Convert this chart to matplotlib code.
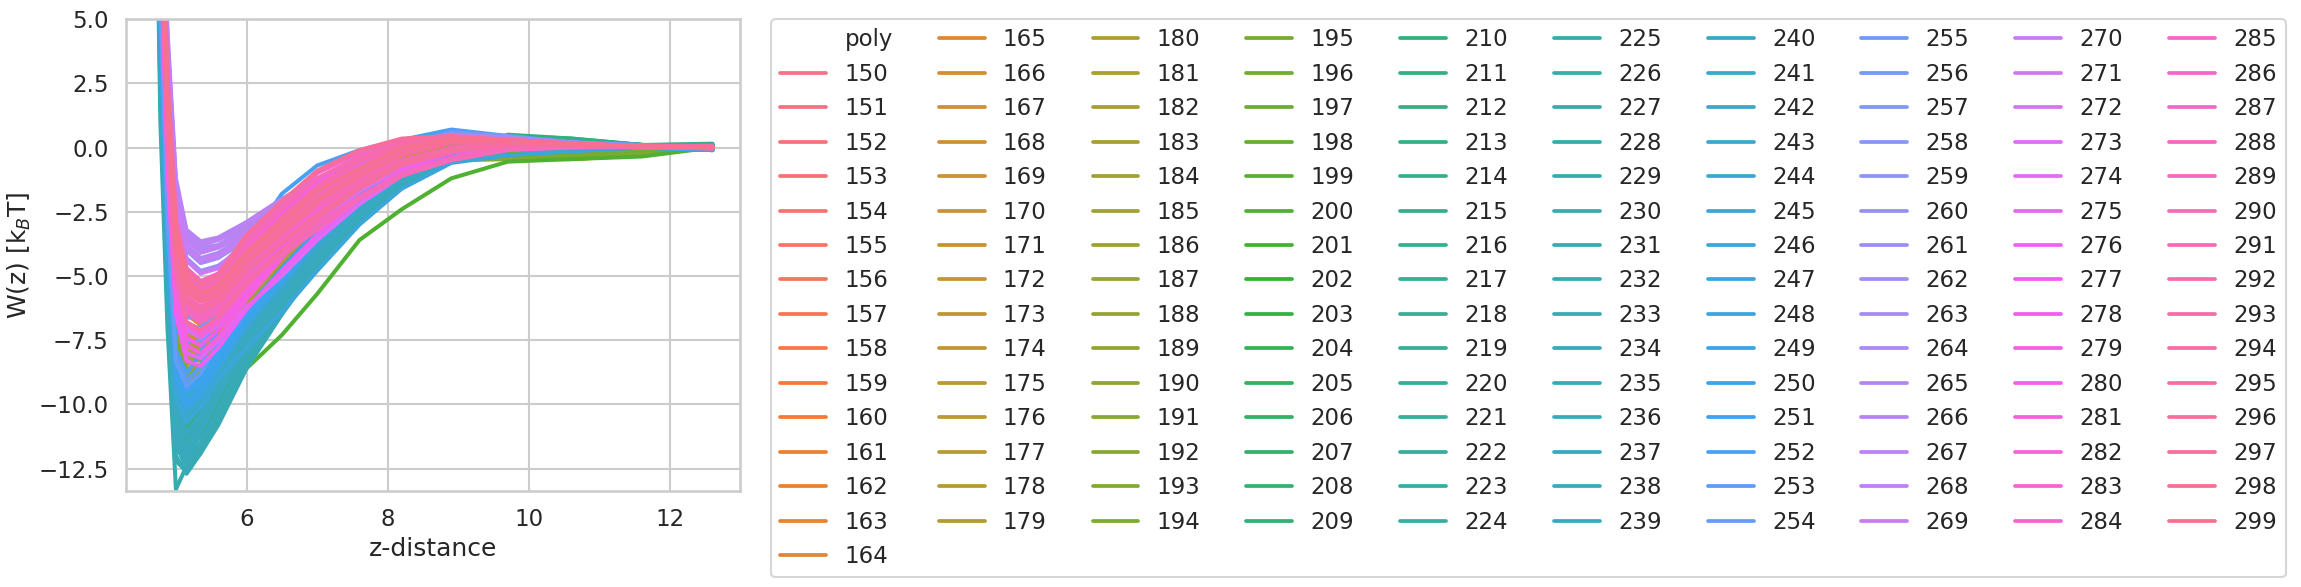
import numpy as np
import seaborn as sns
import matplotlib
matplotlib.use("Agg")
import matplotlib.pyplot as plt
from matplotlib.lines import Line2D

# z positions shared by every curve
z_grid = [4.69, 4.78, 4.88, 5.00, 5.15, 5.35, 5.60, 6.00, 6.50, 7.00,
          7.60, 8.20, 8.90, 9.70, 10.60, 11.60, 12.60]

polys = list(range(150, 300))

# W(z), one row per poly, grouped by colour band
w_150_164 = [
    [26, 12, 3.0, -2.8, -4.7, -5.2, -5.0, -4.2, -3.1, -2.0, -1.0, -0.2, 0.2, 0.25, 0.15, 0.05, 0.0],
    [25, 11, 2.2, -3.4, -5.3, -5.8, -5.5, -4.6, -3.4, -2.2, -1.1, -0.2, 0.2, 0.2, 0.1, 0.05, -0.05],
    [26, 12, 2.8, -3.0, -4.9, -5.4, -5.2, -4.3, -3.2, -2.0, -0.9, -0.1, 0.3, 0.25, 0.15, 0.05, 0.05],
    [24, 10, 1.6, -4.0, -6.0, -6.4, -6.0, -4.9, -3.6, -2.3, -1.1, -0.2, 0.2, 0.2, 0.1, 0.05, 0.0],
    [25, 11, 2.5, -3.2, -5.0, -5.5, -5.3, -4.4, -3.3, -2.1, -0.9, 0.0, 0.35, 0.3, 0.15, 0.05, 0.1],
    [24, 10, 1.2, -4.3, -6.3, -6.7, -6.3, -5.2, -3.8, -2.5, -1.2, -0.3, 0.15, 0.2, 0.1, 0.0, 0.0],
    [25, 11, 2.0, -3.5, -5.4, -5.9, -5.6, -4.6, -3.4, -2.2, -1.0, -0.1, 0.3, 0.25, 0.1, 0.05, -0.1],
    [23, 9, 0.8, -4.8, -6.8, -7.1, -6.6, -5.4, -4.0, -2.6, -1.3, -0.3, 0.2, 0.2, 0.1, 0.0, 0.05],
    [25, 11, 2.4, -3.1, -5.0, -5.6, -5.4, -4.5, -3.4, -2.1, -0.9, 0.1, 0.4, 0.3, 0.15, 0.05, 0.0],
    [24, 10, 1.4, -4.2, -6.1, -6.5, -6.1, -5.0, -3.7, -2.4, -1.1, -0.2, 0.2, 0.2, 0.1, 0.05, 0.0],
    [23, 9, 0.5, -5.0, -7.0, -7.3, -6.8, -5.5, -4.1, -2.7, -1.4, -0.4, 0.1, 0.15, 0.1, 0.0, 0.1],
    [25, 11, 2.1, -3.4, -5.3, -5.8, -5.5, -4.6, -3.4, -2.2, -1.0, -0.1, 0.3, 0.25, 0.1, 0.05, 0.0],
    [24, 10, 1.0, -4.5, -6.5, -6.9, -6.4, -5.2, -3.9, -2.5, -1.2, -0.3, 0.2, 0.2, 0.1, 0.0, -0.05],
    [24, 10, 1.3, -4.2, -6.2, -6.6, -6.2, -5.1, -3.8, -2.4, -1.2, -0.2, 0.2, 0.2, 0.1, 0.05, 0.0],
    [23, 9, 0.6, -5.0, -6.9, -7.2, -6.7, -5.5, -4.1, -2.7, -1.4, -0.4, 0.1, 0.15, 0.1, 0.0, 0.05],
]
w_165_179 = [
    [23, 9, 0.3, -5.2, -7.2, -7.5, -7.0, -5.7, -4.3, -2.9, -1.5, -0.5, 0.05, 0.15, 0.1, 0.0, 0.0],
    [22, 8, -0.4, -5.9, -7.8, -8.0, -7.4, -6.0, -4.5, -3.1, -1.7, -0.6, 0.0, 0.1, 0.05, 0.0, 0.1],
    [24, 10, 1.2, -4.4, -6.4, -6.8, -6.3, -5.1, -3.8, -2.5, -1.2, -0.2, 0.3, 0.3, 0.15, 0.05, 0.0],
    [22, 8, -0.8, -6.3, -8.2, -8.3, -7.6, -6.2, -4.7, -3.2, -1.8, -0.7, -0.05, 0.1, 0.05, 0.0, -0.05],
    [23, 9, 0.0, -5.5, -7.4, -7.7, -7.1, -5.8, -4.4, -3.0, -1.6, -0.5, 0.1, 0.15, 0.1, 0.0, 0.0],
    [22, 8, -0.6, -6.1, -8.0, -8.2, -7.5, -6.6, -5.8, -4.6, -2.6, -1.1, -0.2, 0.0, 0.0, 0.0, 0.05],
    [23, 9, 0.5, -5.0, -7.0, -7.3, -6.8, -5.5, -4.1, -2.7, -1.4, -0.3, 0.2, 0.2, 0.1, 0.05, 0.0],
    [22, 8, -0.2, -5.7, -7.6, -7.9, -7.3, -5.9, -4.5, -3.0, -1.6, -0.5, 0.1, 0.15, 0.1, 0.0, 0.0],
    [23, 9, 0.2, -5.3, -7.3, -7.6, -7.0, -5.7, -4.3, -2.9, -1.5, -0.4, 0.4, 0.3, 0.15, 0.05, -0.05],
    [21, 7, -1.0, -6.5, -8.4, -8.5, -7.8, -6.3, -4.8, -3.3, -1.9, -0.7, -0.1, 0.05, 0.0, 0.0, 0.0],
    [22, 8, -0.3, -5.8, -7.7, -7.9, -7.3, -6.0, -4.5, -3.0, -1.6, -0.5, 0.05, 0.1, 0.05, 0.0, 0.05],
    [23, 9, 0.4, -5.1, -7.1, -7.4, -6.9, -5.6, -4.2, -2.8, -1.4, -0.3, 0.15, 0.2, 0.1, 0.0, 0.0],
    [21, 7, -1.2, -6.7, -8.6, -8.6, -7.9, -6.4, -4.9, -3.4, -1.9, -0.8, -0.15, 0.0, 0.0, 0.0, 0.0],
    [22, 8, -0.5, -6.0, -7.9, -8.1, -7.4, -6.1, -4.6, -3.1, -1.7, -0.6, 0.0, 0.1, 0.05, 0.0, -0.1],
    [22, 8, -0.1, -5.6, -7.5, -7.8, -7.2, -5.9, -4.4, -3.0, -1.6, -0.5, 0.05, 0.1, 0.05, 0.0, 0.0],
]
w_180_194 = [
    [21, 7, -1.5, -7.0, -8.9, -8.8, -8.0, -6.5, -5.0, -3.5, -2.0, -0.9, -0.3, -0.2, -0.2, -0.1, 0.0],
    [22, 8, -0.7, -6.2, -8.1, -8.2, -7.5, -6.1, -4.6, -3.2, -1.8, -0.7, -0.2, -0.15, -0.15, -0.1, 0.05],
    [20, 6, -2.2, -7.7, -9.5, -9.3, -8.4, -6.8, -5.2, -3.7, -2.2, -1.0, -0.4, -0.3, -0.25, -0.15, 0.0],
    [21, 7, -1.3, -6.8, -8.7, -8.7, -7.9, -6.4, -4.9, -3.4, -2.0, -0.8, -0.25, -0.2, -0.2, -0.1, 0.0],
    [22, 8, -0.8, -6.3, -8.2, -8.3, -7.6, -6.2, -4.7, -3.2, -1.8, -0.7, -0.2, -0.15, -0.1, -0.05, 0.0],
    [20, 6, -2.4, -7.9, -9.7, -9.5, -8.6, -7.0, -5.4, -3.8, -2.3, -1.1, -0.45, -0.4, -0.4, -0.25, 0.0],
    [21, 7, -1.6, -7.1, -9.0, -8.9, -8.1, -6.6, -5.0, -3.5, -2.1, -0.9, -0.3, -0.25, -0.2, -0.1, 0.1],
    [20, 6, -2.0, -7.5, -9.3, -9.2, -8.3, -6.8, -5.2, -3.6, -2.2, -1.0, -0.35, -0.3, -0.3, -0.2, 0.0],
    [21, 7, -1.2, -6.7, -8.6, -8.6, -7.8, -6.4, -4.8, -3.4, -1.9, -0.8, -0.25, -0.2, -0.15, -0.1, 0.0],
    [20, 6, -2.6, -8.1, -9.9, -9.6, -8.7, -7.1, -5.5, -3.9, -2.4, -1.1, -0.45, -0.45, -0.45, -0.3, 0.05],
    [21, 7, -1.7, -7.2, -9.1, -9.0, -8.2, -6.6, -5.1, -3.6, -2.1, -0.9, -0.3, -0.3, -0.3, -0.2, 0.0],
    [20, 6, -2.3, -7.8, -9.6, -9.4, -8.5, -6.9, -5.3, -3.8, -2.3, -1.0, -0.4, -0.35, -0.35, -0.25, 0.0],
    [21, 7, -1.4, -6.9, -8.8, -8.8, -8.0, -6.5, -5.0, -3.5, -2.0, -0.9, -0.3, -0.2, -0.2, -0.1, -0.05],
    [20, 6, -2.8, -8.3, -10.1, -9.8, -8.8, -7.2, -5.6, -4.0, -2.4, -1.2, -0.5, -0.45, -0.45, -0.3, 0.0],
    [20, 6, -2.1, -7.6, -9.4, -9.2, -8.4, -6.8, -5.2, -3.7, -2.2, -1.0, -0.35, -0.3, -0.3, -0.2, 0.0],
]
w_195_209 = [
    [20, 6, -2.5, -8.0, -9.8, -9.6, -8.6, -7.0, -5.4, -3.9, -2.4, -1.1, -0.4, -0.2, -0.2, -0.1, 0.0],
    [19, 5, -3.2, -8.8, -10.4, -10.0, -8.9, -7.3, -5.6, -4.0, -2.5, -1.2, -0.4, 0.2, 0.1, 0.0, 0.0],
    [20, 6, -2.7, -8.2, -10.0, -9.7, -8.7, -7.1, -5.5, -3.9, -2.4, -1.1, -0.4, -0.1, -0.1, 0.0, 0.05],
    [19, 5, -3.5, -9.1, -10.6, -10.2, -9.1, -7.5, -5.8, -4.2, -2.6, -1.3, -0.5, 0.0, 0.0, 0.0, 0.0],
    [19, 5, -3.0, -8.6, -10.2, -9.9, -8.8, -7.2, -5.6, -4.0, -2.5, -1.2, -0.4, 0.1, 0.05, 0.0, 0.1],
    [19, 5, -3.8, -9.4, -10.8, -10.3, -9.6, -8.6, -7.3, -5.7, -3.6, -2.4, -1.2, -0.55, -0.45, -0.35, 0.0],
    [20, 6, -2.6, -8.1, -9.9, -9.6, -8.6, -7.0, -5.4, -3.9, -2.4, -1.1, -0.3, 0.3, 0.2, 0.1, 0.0],
    [19, 5, -3.4, -9.0, -10.5, -10.1, -9.0, -7.4, -5.7, -4.1, -2.6, -1.2, -0.4, 0.0, 0.0, 0.0, -0.05],
    [19, 5, -3.1, -8.7, -10.3, -9.9, -8.9, -7.2, -5.6, -4.0, -2.5, -1.2, -0.4, 0.1, 0.1, 0.05, 0.0],
    [18, 4, -4.0, -9.7, -11.0, -10.5, -9.3, -7.6, -5.9, -4.2, -2.6, -1.3, -0.5, 0.0, 0.0, 0.0, 0.0],
    [19, 5, -3.3, -8.9, -10.5, -10.1, -9.0, -7.3, -5.7, -4.1, -2.5, -1.2, -0.4, 0.4, 0.3, 0.1, 0.05],
    [20, 6, -2.9, -8.4, -10.1, -9.8, -8.8, -7.1, -5.5, -4.0, -2.4, -1.1, -0.3, 0.2, 0.15, 0.05, 0.0],
    [19, 5, -3.6, -9.2, -10.7, -10.2, -9.1, -7.4, -5.8, -4.1, -2.6, -1.3, -0.45, 0.1, 0.1, 0.05, 0.0],
    [18, 4, -3.9, -9.6, -10.9, -10.4, -9.2, -7.5, -5.8, -4.2, -2.6, -1.3, -0.5, 0.45, 0.35, 0.1, 0.0],
    [19, 5, -3.2, -8.8, -10.4, -10.0, -8.9, -7.3, -5.6, -4.0, -2.5, -1.2, -0.4, 0.2, 0.15, 0.05, 0.1],
]
w_210_224 = [
    [18, 4, -4.2, -10.0, -11.3, -10.6, -9.4, -7.6, -5.9, -4.2, -2.6, -1.3, -0.4, 0.5, 0.35, 0.1, 0.0],
    [18, 4, -4.5, -10.3, -11.6, -10.8, -9.5, -7.7, -6.0, -4.3, -2.7, -1.3, -0.45, 0.3, 0.3, 0.1, 0.05],
    [19, 5, -3.6, -9.3, -10.8, -10.3, -9.2, -7.5, -5.8, -4.2, -2.6, -1.2, -0.4, 0.2, 0.1, 0.05, 0.0],
    [18, 4, -4.8, -10.6, -11.9, -11.2, -10.0, -8.0, -6.2, -4.4, -2.7, -1.4, -0.5, 0.1, 0.1, 0.0, 0.0],
    [18, 4, -4.3, -10.1, -11.4, -10.7, -9.4, -7.6, -5.9, -4.3, -2.6, -1.3, -0.4, 0.4, 0.3, 0.1, 0.15],
    [17, 3, -5.1, -11.0, -12.2, -11.5, -10.3, -8.2, -6.3, -4.5, -2.8, -1.4, -0.5, 0.0, 0.0, 0.0, 0.0],
    [18, 4, -4.0, -9.8, -11.2, -10.5, -9.3, -7.6, -5.9, -4.2, -2.6, -1.3, -0.4, 0.2, 0.1, 0.05, 0.0],
    [18, 4, -4.6, -10.4, -11.7, -10.9, -9.5, -7.7, -6.0, -4.3, -2.7, -1.3, -0.45, 0.1, 0.05, 0.0, -0.05],
    [17, 3, -5.3, -11.2, -12.4, -11.6, -10.4, -8.3, -6.3, -4.5, -2.8, -1.4, -0.5, -0.1, 0.0, 0.0, 0.0],
    [18, 4, -4.4, -10.2, -11.5, -10.7, -9.4, -7.7, -5.9, -4.3, -2.7, -1.3, -0.4, 0.15, 0.1, 0.05, 0.0],
    [18, 4, -4.7, -10.5, -11.8, -11.0, -9.6, -7.8, -6.0, -4.4, -2.7, -1.4, -0.5, 0.0, 0.0, 0.0, 0.1],
    [17, 3, -5.0, -10.9, -12.1, -11.1, -9.7, -7.9, -6.1, -4.4, -2.8, -1.4, -0.5, 0.05, 0.05, 0.0, 0.0],
    [18, 4, -4.1, -9.9, -11.3, -10.6, -9.3, -7.6, -5.9, -4.2, -2.6, -1.3, -0.4, 0.25, 0.2, 0.05, 0.0],
    [17, 3, -5.4, -11.3, -12.5, -11.7, -10.5, -8.4, -6.4, -4.6, -2.8, -1.5, -0.55, -0.1, -0.05, 0.0, -0.1],
    [18, 4, -4.5, -10.3, -11.6, -10.8, -9.5, -7.7, -6.0, -4.3, -2.7, -1.3, -0.45, 0.1, 0.05, 0.0, 0.0],
]
w_225_239 = [
    [17, 3, -5.0, -10.9, -12.0, -11.2, -10.0, -8.0, -6.1, -4.4, -2.7, -1.3, -0.4, 0.0, 0.0, 0.0, 0.0],
    [17, 3, -5.5, -11.4, -12.4, -11.6, -10.3, -8.2, -6.2, -4.5, -2.7, -1.4, -0.5, -0.05, 0.0, 0.0, 0.05],
    [18, 4, -4.4, -10.2, -11.4, -10.6, -9.3, -7.5, -5.8, -4.1, -2.5, -1.2, -0.4, 0.05, 0.05, 0.0, 0.0],
    [16, 2, -6.2, -12.2, -12.6, -11.9, -10.7, -8.5, -6.4, -4.6, -2.8, -1.4, -0.5, -0.1, 0.0, 0.0, 0.0],
    [17, 3, -5.2, -11.1, -12.2, -11.1, -9.7, -7.8, -6.0, -4.3, -2.6, -1.3, -0.45, 0.0, 0.0, 0.0, -0.1],
    [16, 1, -7.0, -13.3, -12.4, -11.6, -10.4, -8.2, -6.2, -4.4, -2.7, -1.3, -0.45, -0.1, 0.0, 0.0, 0.0],
    [17, 3, -5.6, -11.5, -12.5, -11.7, -10.5, -8.3, -6.3, -4.5, -2.7, -1.4, -0.5, -0.05, 0.0, 0.0, 0.0],
    [18, 4, -4.6, -10.5, -11.6, -10.7, -9.4, -7.6, -5.8, -4.2, -2.6, -1.2, -0.4, 0.05, 0.05, 0.0, 0.05],
    [17, 2, -6.0, -12.0, -12.7, -11.9, -10.8, -8.6, -6.5, -4.6, -2.8, -1.4, -0.5, -0.1, -0.05, 0.0, 0.0],
    [17, 3, -5.3, -11.2, -12.2, -11.1, -9.7, -7.8, -6.0, -4.3, -2.6, -1.3, -0.45, 0.0, 0.0, 0.0, 0.0],
    [18, 4, -4.3, -10.1, -11.2, -10.5, -9.2, -7.4, -5.7, -4.1, -2.5, -1.2, -0.35, 0.05, 0.05, 0.0, -0.05],
    [17, 3, -5.7, -11.6, -12.4, -11.5, -10.2, -8.1, -6.2, -4.4, -2.7, -1.3, -0.45, 0.0, 0.0, 0.0, 0.0],
    [18, 4, -4.8, -10.7, -11.7, -10.8, -9.4, -7.6, -5.8, -4.2, -2.6, -1.2, -0.4, 0.0, 0.0, 0.0, 0.1],
    [17, 3, -5.4, -11.3, -12.0, -11.0, -9.6, -7.7, -5.9, -4.2, -2.6, -1.3, -0.45, -0.05, 0.0, 0.0, 0.0],
    [18, 4, -4.2, -10.0, -11.1, -10.4, -9.1, -7.3, -5.6, -4.0, -2.5, -1.1, -0.35, 0.05, 0.05, 0.0, 0.0],
]
w_240_254 = [
    [18, 4, -4.0, -9.6, -10.6, -10.0, -8.9, -7.1, -5.4, -3.8, -2.3, -1.0, -0.3, 0.05, 0.05, 0.0, 0.0],
    [19, 5, -3.3, -8.8, -9.9, -9.4, -8.4, -6.7, -5.1, -3.6, -2.1, -0.9, -0.25, 0.05, 0.05, 0.0, 0.0],
    [18, 4, -3.8, -9.4, -10.4, -9.8, -8.7, -7.0, -5.3, -3.8, -2.3, -1.0, -0.3, 0.0, 0.0, 0.0, -0.1],
    [19, 5, -3.0, -8.5, -9.6, -9.2, -8.2, -6.6, -5.0, -3.5, -2.0, -0.8, -0.2, 0.1, 0.05, 0.0, 0.0],
    [19, 5, -3.5, -9.0, -10.1, -9.6, -8.5, -6.8, -5.2, -3.6, -2.1, -0.9, -0.3, 0.0, 0.0, 0.0, 0.0],
    [20, 6, -2.8, -8.3, -9.4, -9.0, -8.0, -6.4, -4.8, -3.3, -1.9, -0.7, -0.1, 0.1, 0.05, 0.0, 0.05],
    [18, 4, -4.1, -9.7, -10.7, -10.1, -9.0, -7.8, -6.4, -4.8, -3.0, -1.6, -0.6, -0.3, -0.15, 0.0, 0.0],
    [19, 5, -3.2, -8.7, -9.8, -9.3, -8.3, -6.7, -5.0, -3.5, -2.0, -0.8, -0.2, 0.05, 0.05, 0.0, 0.0],
    [19, 5, -3.6, -9.1, -10.2, -9.7, -8.6, -6.9, -5.3, -3.7, -2.2, -0.9, -0.3, 0.0, 0.0, 0.0, 0.1],
    [20, 6, -2.7, -8.2, -9.3, -8.9, -7.9, -6.3, -4.7, -3.2, -1.8, -0.6, 0.0, 0.15, 0.1, 0.0, 0.0],
    [19, 5, -3.4, -8.9, -10.0, -9.5, -8.4, -6.8, -5.2, -3.6, -2.1, -0.9, -0.25, 0.0, 0.0, 0.0, -0.1],
    [20, 6, -2.9, -8.4, -9.5, -9.1, -8.1, -6.5, -4.9, -3.4, -1.9, -0.7, -0.1, 0.1, 0.05, 0.0, 0.0],
    [20, 6, -2.5, -7.9, -8.8, -8.0, -6.2, -3.8, -1.8, -0.7, -0.1, 0.3, 0.7, 0.45, 0.2, 0.1, 0.0],
    [20, 6, -2.6, -8.1, -9.1, -8.5, -7.0, -4.9, -3.0, -1.6, -0.5, 0.15, 0.6, 0.4, 0.2, 0.05, 0.0],
    [20, 6, -2.8, -8.3, -9.3, -8.8, -7.6, -5.8, -4.0, -2.6, -1.3, -0.3, 0.3, 0.35, 0.15, 0.05, 0.0],
]
w_255_269 = [
    [21, 7, -1.2, -6.5, -7.6, -7.5, -6.8, -5.4, -3.9, -2.5, -1.2, -0.1, 0.55, 0.4, 0.2, 0.05, 0.0],
    [22, 8, -0.5, -5.8, -7.0, -7.0, -6.4, -5.1, -3.7, -2.3, -1.0, 0.0, 0.6, 0.45, 0.2, 0.1, 0.0],
    [22, 8, 0.0, -5.2, -6.6, -6.7, -6.2, -5.0, -3.6, -2.2, -1.0, -0.05, 0.5, 0.4, 0.2, 0.05, 0.0],
    [23, 9, 0.8, -4.5, -6.0, -6.2, -5.8, -4.7, -3.4, -2.1, -0.9, 0.0, 0.5, 0.4, 0.2, 0.05, 0.0],
    [24, 10, 1.8, -3.5, -5.2, -5.5, -5.2, -4.3, -3.1, -1.9, -0.8, 0.1, 0.5, 0.4, 0.2, 0.05, 0.0],
    [24, 10, 2.0, -3.2, -4.9, -5.3, -5.0, -4.1, -3.0, -1.9, -0.8, 0.0, 0.45, 0.35, 0.2, 0.05, 0.0],
    [25, 11, 2.8, -2.5, -4.3, -4.8, -4.6, -3.8, -2.8, -1.7, -0.7, 0.05, 0.45, 0.35, 0.15, 0.05, 0.0],
    [25, 12, 3.3, -2.1, -4.0, -4.5, -4.3, -3.6, -2.6, -1.6, -0.6, 0.1, 0.5, 0.4, 0.2, 0.05, 0.0],
    [26, 12, 3.6, -1.9, -3.8, -4.3, -4.1, -3.4, -2.5, -1.5, -0.6, 0.1, 0.5, 0.35, 0.15, 0.05, 0.0],
    [27, 13, 4.2, -1.5, -3.4, -3.9, -3.8, -3.1, -2.2, -1.4, -0.5, 0.15, 0.5, 0.35, 0.15, 0.05, 0.0],
    [27, 13, 4.0, -1.6, -3.5, -4.0, -3.8, -3.2, -2.3, -1.4, -0.5, 0.1, 0.45, 0.3, 0.15, 0.05, 0.0],
    [28, 14, 4.6, -1.2, -3.2, -3.65, -3.5, -2.9, -2.0, -1.2, -0.4, 0.2, 0.5, 0.35, 0.15, 0.05, 0.0],
    [27, 13, 4.3, -1.4, -3.3, -3.8, -3.6, -3.0, -2.1, -1.3, -0.5, 0.15, 0.45, 0.3, 0.15, 0.05, 0.0],
    [26, 12, 3.8, -1.8, -3.6, -4.1, -3.9, -3.3, -2.3, -1.4, -0.5, 0.1, 0.4, 0.3, 0.15, 0.05, 0.0],
    [26, 12, 3.5, -2.0, -3.9, -4.4, -4.2, -3.5, -2.5, -1.5, -0.6, 0.1, 0.4, 0.3, 0.15, 0.05, 0.0],
]
w_270_284 = [
    [26, 12, 3.0, -2.5, -4.4, -4.9, -4.7, -3.6, -2.4, -1.3, -0.4, 0.2, 0.4, 0.3, 0.15, 0.05, 0.0],
    [25, 11, 2.2, -3.3, -5.1, -5.6, -5.3, -4.4, -3.2, -2.0, -0.9, 0.0, 0.3, 0.25, 0.15, 0.05, 0.0],
    [24, 10, 1.2, -4.3, -6.1, -6.5, -6.1, -5.2, -4.0, -2.9, -1.7, -0.8, -0.2, 0.1, 0.1, 0.05, 0.0],
    [23, 9, 0.2, -5.3, -7.1, -7.4, -6.9, -5.5, -4.0, -2.6, -1.2, -0.2, 0.25, 0.2, 0.1, 0.05, 0.0],
    [22, 8, -0.6, -6.2, -8.0, -8.2, -7.5, -6.2, -5.0, -3.6, -2.2, -1.1, -0.4, 0.05, 0.1, 0.0, 0.0],
    [24, 10, 1.5, -4.0, -5.8, -6.2, -5.9, -4.8, -3.5, -2.2, -1.0, -0.05, 0.3, 0.25, 0.1, 0.05, 0.0],
    [22, 8, -0.9, -6.5, -8.3, -8.5, -7.8, -6.3, -4.8, -3.4, -2.0, -0.9, -0.2, 0.1, 0.1, 0.0, 0.0],
    [23, 9, 0.5, -5.0, -6.8, -7.2, -6.7, -5.4, -3.9, -2.5, -1.1, -0.15, 0.25, 0.2, 0.1, 0.05, 0.0],
    [25, 11, 2.5, -3.0, -4.8, -5.3, -5.1, -3.9, -2.6, -1.4, -0.5, 0.2, 0.4, 0.25, 0.1, 0.05, 0.0],
    [23, 9, 0.0, -5.6, -7.4, -7.7, -7.1, -5.7, -4.1, -2.7, -1.3, -0.2, 0.25, 0.2, 0.1, 0.0, 0.0],
    [24, 10, 1.0, -4.5, -6.3, -6.7, -6.3, -5.1, -3.7, -2.4, -1.1, -0.1, 0.3, 0.25, 0.1, 0.05, 0.0],
    [22, 8, -0.3, -5.9, -7.7, -8.0, -7.4, -5.9, -4.3, -2.8, -1.4, -0.3, 0.2, 0.2, 0.1, 0.0, 0.0],
    [24, 10, 1.7, -3.8, -5.6, -6.0, -5.7, -4.7, -3.4, -2.1, -0.9, 0.0, 0.3, 0.25, 0.1, 0.05, 0.0],
    [23, 9, 0.4, -5.1, -6.9, -7.3, -6.8, -5.5, -4.0, -2.6, -1.2, -0.15, 0.25, 0.2, 0.1, 0.05, 0.0],
    [25, 11, 2.0, -3.5, -5.3, -5.8, -5.5, -4.5, -3.3, -2.1, -0.9, 0.0, 0.3, 0.25, 0.1, 0.05, 0.0],
]
w_285_299 = [
    [25, 11, 2.4, -3.1, -5.0, -5.5, -5.2, -4.0, -2.8, -1.6, -0.6, 0.1, 0.35, 0.3, 0.15, 0.05, 0.0],
    [24, 10, 1.5, -4.0, -5.9, -6.3, -5.9, -4.6, -3.6, -2.6, -1.6, -0.7, -0.2, 0.15, 0.1, 0.05, 0.0],
    [25, 11, 2.8, -2.8, -4.7, -5.2, -4.9, -3.5, -2.2, -1.0, -0.2, 0.3, 0.4, 0.3, 0.15, 0.05, 0.0],
    [24, 10, 1.2, -4.3, -6.2, -6.6, -6.2, -5.0, -4.0, -3.0, -1.9, -1.0, -0.4, 0.0, 0.05, 0.05, 0.0],
    [25, 11, 2.1, -3.4, -5.3, -5.8, -5.5, -4.2, -3.0, -1.9, -0.9, -0.1, 0.3, 0.3, 0.15, 0.05, 0.0],
    [24, 10, 1.0, -4.5, -6.4, -6.8, -6.4, -5.2, -4.2, -3.2, -2.0, -1.1, -0.5, -0.1, 0.0, 0.05, 0.05],
    [25, 11, 2.6, -3.0, -4.9, -5.4, -5.1, -3.7, -2.4, -1.2, -0.35, 0.25, 0.4, 0.3, 0.15, 0.05, 0.0],
    [24, 10, 1.6, -3.9, -5.8, -6.2, -5.8, -4.5, -3.4, -2.3, -1.3, -0.5, 0.0, 0.2, 0.1, 0.05, -0.05],
    [25, 11, 2.3, -3.2, -5.1, -5.6, -5.3, -4.0, -2.7, -1.5, -0.5, 0.15, 0.35, 0.3, 0.15, 0.05, 0.0],
    [23, 9, 0.6, -4.9, -6.8, -7.1, -6.6, -5.3, -4.0, -2.8, -1.6, -0.7, -0.15, 0.1, 0.1, 0.05, 0.0],
    [25, 11, 2.0, -3.5, -5.4, -5.9, -5.6, -4.3, -3.1, -2.0, -1.0, -0.2, 0.25, 0.25, 0.15, 0.05, 0.05],
    [24, 10, 1.4, -4.1, -6.0, -6.4, -6.0, -4.8, -3.7, -2.6, -1.5, -0.6, -0.1, 0.15, 0.1, 0.05, 0.0],
    [25, 11, 2.7, -2.9, -4.8, -5.3, -5.0, -3.4, -2.1, -0.9, -0.1, 0.35, 0.45, 0.3, 0.15, 0.05, 0.0],
    [24, 10, 1.8, -3.7, -5.6, -6.0, -5.7, -4.5, -3.3, -2.1, -1.1, -0.3, 0.2, 0.25, 0.1, 0.05, 0.0],
    [25, 11, 2.2, -3.3, -5.2, -5.7, -5.4, -4.1, -2.9, -1.7, -0.8, 0.0, 0.3, 0.3, 0.15, 0.05, 0.0],
]

w_rows = (w_150_164 + w_165_179 + w_180_194 + w_195_209 + w_210_224
          + w_225_239 + w_240_254 + w_255_269 + w_270_284 + w_285_299)

sns.set_theme(style="whitegrid", context="talk")

fig = plt.figure(figsize=(23.01, 5.87), dpi=100)
ax = fig.add_axes([0.0548, 0.1635, 0.267, 0.804])

colors = sns.color_palette("husl", len(polys))
lines = []
for p, row, c in zip(polys, w_rows, colors):
    ln, = ax.plot(z_grid, row, color=c, lw=2.9, label=str(p),
                  solid_joinstyle="round", solid_capstyle="round")
    lines.append(ln)

ax.set_ylim(-13.37, 5)
ax.set_xticks([6, 8, 10, 12])
ax.set_xlabel("z-distance")
ax.set_ylabel("W(z) [k$_B$T]")

# old-style seaborn legend: hue name as first (empty) entry
blank = Line2D([], [], color="none")
leg = ax.legend([blank] + lines, ["poly"] + [str(p) for p in polys],
                ncol=10, loc="upper left", bbox_to_anchor=(1.05, 1.0),
                borderaxespad=0)
for l in leg.get_lines():
    l.set_linewidth(2.7)

plt.savefig("out.png", dpi=100)
